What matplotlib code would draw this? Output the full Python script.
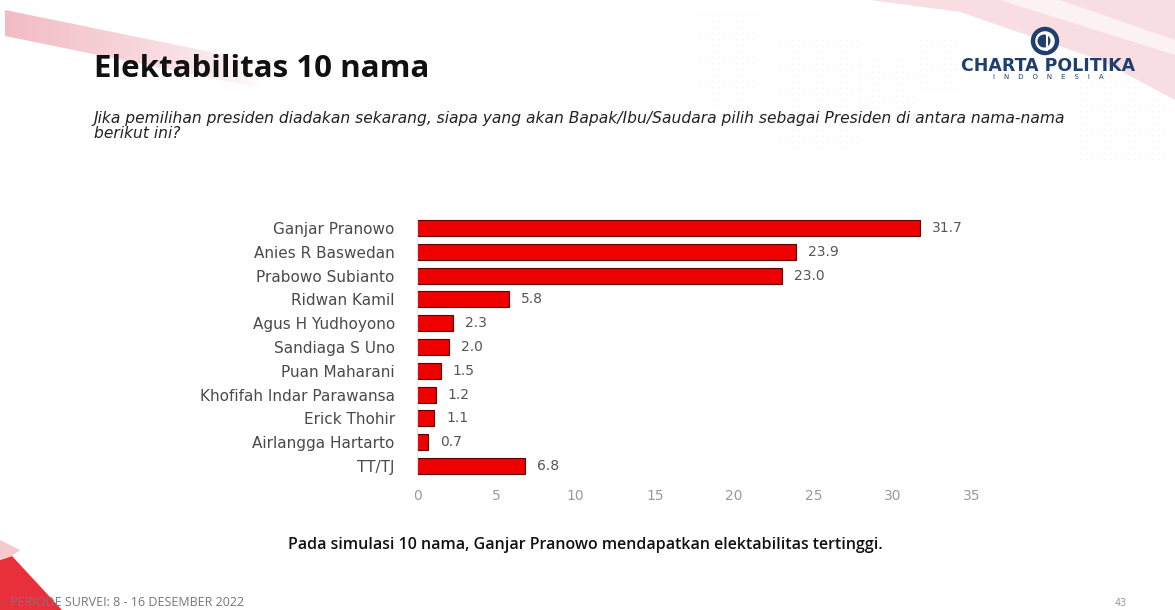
import matplotlib
matplotlib.use("Agg")
import matplotlib.pyplot as plt
from matplotlib.patches import Polygon, Circle
import numpy as np

names = ["Ganjar Pranowo", "Anies R Baswedan", "Prabowo Subianto", "Ridwan Kamil",
         "Agus H Yudhoyono", "Sandiaga S Uno", "Puan Maharani",
         "Khofifah Indar Parawansa", "Erick Thohir", "Airlangga Hartarto", "TT/TJ"]
values = [31.7, 23.9, 23.0, 5.8, 2.3, 2.0, 1.5, 1.2, 1.1, 0.7, 6.8]
xticks = [0, 5, 10, 15, 20, 25, 30, 35]

title = "Elektabilitas 10 nama"
question_1 = ("Jika pemilihan presiden diadakan sekarang, siapa yang akan Bapak/Ibu/Saudara "
              "pilih sebagai Presiden di antara nama-nama")
question_2 = "berikut ini?"
note = "Pada simulasi 10 nama, Ganjar Pranowo mendapatkan elektabilitas tertinggi."
period = "PERIODE SURVEI: 8 - 16 DESEMBER 2022"
page = "43"

plt.rcParams['font.family'] = ['DejaVu Sans']

W, H = 1175, 610
fig = plt.figure(figsize=(W / 100, H / 100), dpi=100)
fig.patch.set_facecolor("white")

# background decorations (figure pixel coordinates via an overlay axes)
bg = fig.add_axes([0, 0, 1, 1], zorder=0)
bg.set_xlim(0, W)
bg.set_ylim(H, 0)
bg.axis("off")

# fading pink stroke top-left (gradient clipped to a band)
band = Polygon([(5, 10), (260, 62), (260, 88), (5, 36)], closed=True,
               facecolor="none", edgecolor="none")
bg.add_patch(band)
grad = np.zeros((2, 256, 4))
grad[..., 0] = 0.94
grad[..., 1] = 0.67
grad[..., 2] = 0.71
grad[..., 3] = 0.8 * (1 - np.linspace(0, 1, 256)) ** 0.7
img = bg.imshow(grad, extent=(5, 260, 90, 8), aspect="auto", interpolation="bilinear",
                zorder=0.4)
img.set_clip_path(band)
bg.set_xlim(0, W)
bg.set_ylim(H, 0)

# pink sweep top-right
bg.add_patch(Polygon([(870, 0), (1175, 0), (1175, 100), (1100, 60), (960, 12)],
                     closed=True, facecolor="#f7d9dd", edgecolor="none", alpha=0.85))
bg.add_patch(Polygon([(1000, 0), (1060, 0), (1175, 40), (1175, 55)],
                     closed=True, facecolor="white", edgecolor="none", alpha=0.6))
# red corner bottom-left
bg.add_patch(Polygon([(0, 560), (12, 556), (62, 610), (0, 610)],
                     closed=True, facecolor="#e8303a", edgecolor="none"))
bg.add_patch(Polygon([(0, 540), (20, 550), (12, 556), (0, 560)],
                     closed=True, facecolor="#f6c9ce", edgecolor="none"))

# faint dotted-map texture
for (x0, x1, y0, y1) in [(700, 760, 15, 110), (780, 860, 40, 150), (860, 920, 60, 130),
                         (1080, 1165, 75, 160), (920, 960, 40, 90)]:
    gx, gy = np.meshgrid(np.arange(x0, x1, 6), np.arange(y0, y1, 6))
    bg.scatter(gx.ravel(), gy.ravel(), s=0.8, color="#efefef", linewidths=0, zorder=0.5)

# logo
bg.add_patch(Circle((1045, 41), 12, facecolor="white", edgecolor="#1f3f6e", linewidth=3.2, zorder=2))
bg.add_patch(Circle((1044, 41), 6.5, facecolor="#1f3f6e", edgecolor="none", zorder=2))
bg.plot([1047, 1047], [33, 50], color="white", linewidth=1.5, zorder=2.1)
bg.text(1048, 66, "CHARTA POLITIKA", ha="center", va="center", fontsize=12.5,
        fontweight="bold", color="#1f3f6e")
bg.text(1048, 77, "I    N    D    O    N    E    S    I    A", ha="center", va="center",
        fontsize=5, color="#1f3f6e")

# title and question
bg.text(94, 69, title, ha="left", va="center", fontsize=22.5, fontweight="bold",
        color="#111111", family=["Open Sans"], zorder=3)
bg.text(94, 118, question_1, ha="left", va="center", fontsize=11.2, style="italic",
        color="#222222")
bg.text(94, 133, question_2, ha="left", va="center", fontsize=11.2, style="italic",
        color="#222222")

# footer texts
bg.text(585, 545, note, ha="center", va="center", fontsize=11.5, color="#111111",
        fontweight="semibold", family=["Open Sans"])
bg.text(10, 602, period, ha="left", va="center", fontsize=9, color="#777777",
        family=["Open Sans"], zorder=3)
bg.text(1121, 603, page, ha="center", va="center", fontsize=7, color="#999999")

# chart
ax = fig.add_axes([417 / W, 1 - 476 / H, (972 - 417) / W, (476 - 218) / H], zorder=1)
ax.patch.set_alpha(0)
y = np.arange(len(names))
ax.barh(y, values, height=0.68, color="#ee0000", edgecolor="#5a0000", linewidth=0.8)
for yi, v in zip(y, values):
    ax.text(v + 0.75, yi, f"{v:.1f}", va="center", ha="left", fontsize=10, color="#555555")
ax.set_yticks(y)
ax.set_yticklabels(names, fontsize=11, color="#4a4a4a")
ax.set_ylim(len(names) - 0.58, -0.42)
ax.set_xlim(0, 35)
ax.set_xticks(xticks)
ax.set_xticklabels([str(t) for t in xticks], fontsize=10, color="#9a9a9a")
ax.tick_params(axis="both", length=0)
ax.tick_params(axis="y", pad=16)
ax.tick_params(axis="x", pad=9)
for s in ["top", "right", "bottom"]:
    ax.spines[s].set_visible(False)
ax.spines["left"].set_color("#e2e2e2")
ax.spines["left"].set_linewidth(0.8)

fig.savefig("out.png", dpi=100, facecolor="white")
